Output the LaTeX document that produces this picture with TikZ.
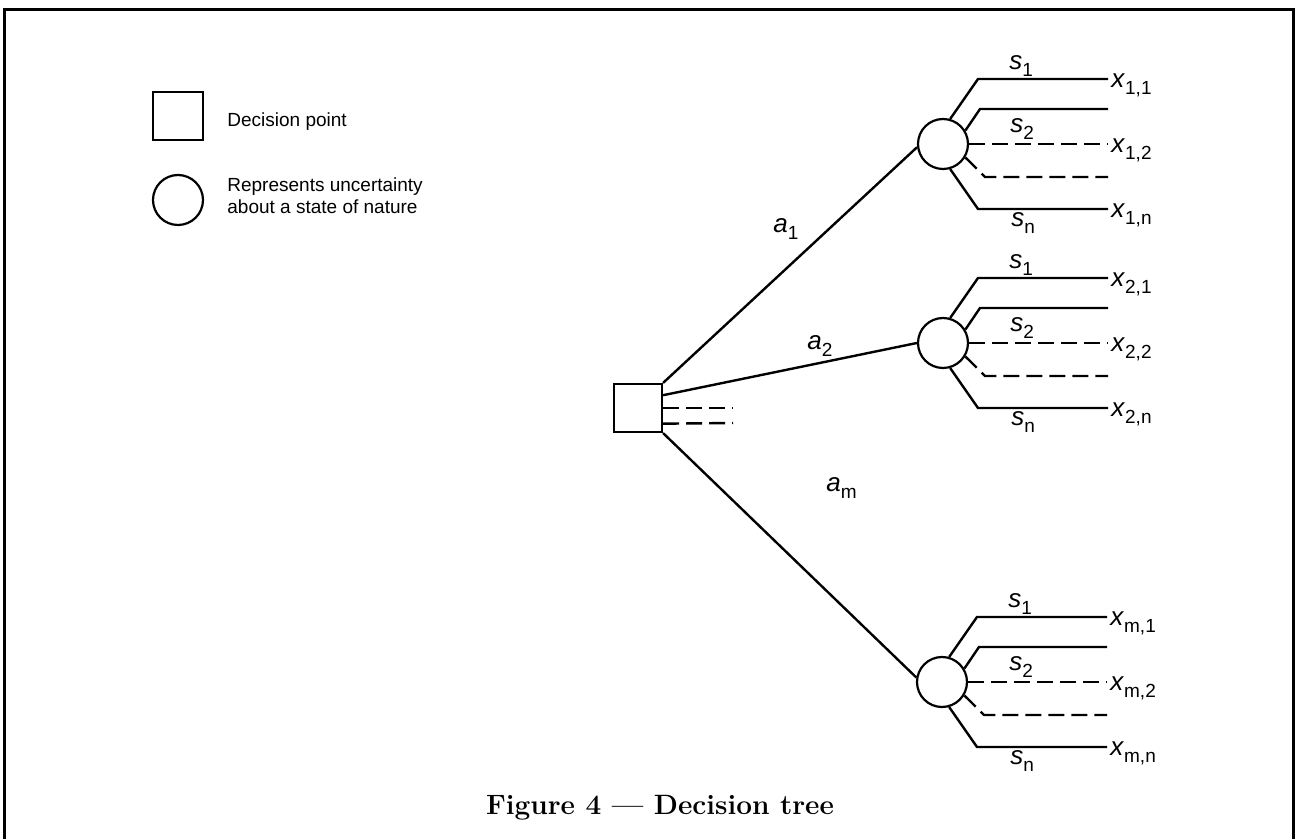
\documentclass[tikz,border=0pt]{standalone}
\usepackage{fontspec}
\newfontfamily\labfont{Liberation Sans}
\usetikzlibrary{positioning}

\newcommand\brlabel[2]{\textit{#1}\raisebox{-3.5pt}{\fontsize{9.5}{10}\selectfont #2}}

\begin{document}
\begin{tikzpicture}[x=0.5pt, y=-0.5pt,
every node/.style={inner sep=0pt},
branch/.style={line width=1.2pt},
dashbranch/.style={branch, dash pattern=on 8pt off 3.5pt},
decision/.style={draw, line width=1.1pt, minimum size=24pt},
chance/.style={draw, circle, line width=1.1pt, minimum size=25pt},
lbl/.style={font=\labfont\fontsize{13}{15}\selectfont, anchor=base west},
legend/.style={font=\labfont\fontsize{9.5}{11}\selectfont, align=left}
]
\useasboundingbox (0,0) rectangle (1298,839);
\draw[line width=1.5pt] (4,839) -- (4,10) -- (1293,10) -- (1293,839);

% legend
\node[decision, minimum width=25pt] (legsq) at (178,116) {};
\node[chance] (legci) at (178,200) {};
\node[legend, anchor=base west] (legsqtext) at (227,127) {Decision point};
\node[legend, anchor=north west] (legcitext) at (227,177) {Represents uncertainty\\about a state of nature};

% decision and chance points
\node[decision] (dec) at (638,408) {};
\node[chance] (c1) at (943,144) {};
\node[chance] (c2) at (943,343) {};
\node[chance] (cm) at (942,682) {};

\coordinate (d1) at (733,408);
\coordinate (d2) at (733,423);

\draw[branch] (dec.north east) -- (c1.187);
\draw[branch] (dec.27) -- (c2.west);
\draw[branch] (dec.south east) -- (cm.170);
\draw[dashbranch] (dec.east) -- (d1);
\draw[dashbranch] (dec.-32) -- (d2);

\node[lbl] (a1) at (773,233) {\brlabel{a}{1}};
\node[lbl] (a2) at (807,350) {\brlabel{a}{2}};
\node[lbl] (am) at (826,492) {\brlabel{a}{m}};

% states of nature
\foreach \c/\k in {c1/1, c2/2, cm/m}{
    \path (\c) ++(35,-65) coordinate (\c-b1) ++(130,0) coordinate (\c-e1);
    \path (\c) ++(37,-35) coordinate (\c-b2) ++(128,0) coordinate (\c-e2);
    \path (\c) ++(165,0) coordinate (\c-e3);
    \path (\c) ++(42,33) coordinate (\c-b4) ++(123,0) coordinate (\c-e4);
    \path (\c) ++(35,65) coordinate (\c-b5) ++(130,0) coordinate (\c-e5);

    \draw[branch] (\c.74) -- (\c-b1) -- (\c-e1);
    \draw[branch] (\c.31) -- (\c-b2) -- (\c-e2);
    \draw[dashbranch] (\c.east) -- (\c-e3);
    \draw[dashbranch] (\c.-31) -- (\c-b4) -- (\c-e4);
    \draw[branch] (\c.-74) -- (\c-b5) -- (\c-e5);

    \path (\c) ++(66,-74) node[lbl] (\c-s1) {\brlabel{s}{1}};
    \path (\c) ++(67,-11) node[lbl] (\c-s2) {\brlabel{s}{2}};
    \path (\c) ++(68,83) node[lbl] (\c-sn) {\brlabel{s}{n}};

    \node[lbl, xshift=1.5pt, yshift=-4.5pt] (\c-x1) at (\c-e1) {\brlabel{x}{\k,1}};
    \node[lbl, xshift=1.5pt, yshift=-4.5pt] (\c-x2) at (\c-e3) {\brlabel{x}{\k,2}};
    \node[lbl, xshift=1.5pt, yshift=-4.5pt] (\c-xn) at (\c-e5) {\brlabel{x}{\k,n}};
}

%\draw[help lines] (0,0) grid[step=50] (1298,839);
\node[font=\bfseries\fontsize{14}{16}\selectfont, anchor=base] (caption) at (660,815) {Figure 4 --- Decision tree};
\end{tikzpicture}
\end{document}
